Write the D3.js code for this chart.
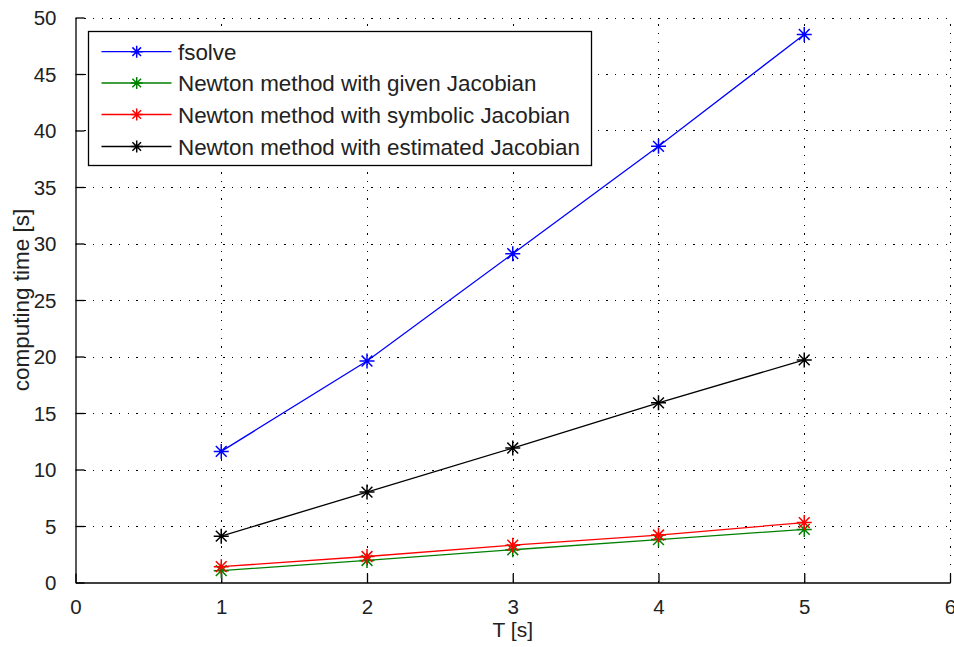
<!DOCTYPE html>
<html>
<head>
<meta charset="utf-8">
<script src="https://cdn.jsdelivr.net/npm/d3@7"></script>
<style>
  html, body { margin: 0; padding: 0; background: #fff; }
  svg { display: block; font-family: "Liberation Sans", Arial, sans-serif; }
</style>
</head>
<body>
<svg id="chart" width="954" height="647"></svg>
<script>
// Simulation horizon T [s]
const horizons = [1, 2, 3, 4, 5];

// Computing time [s] for each solver
const fsolveTimes    = [11.6, 19.6, 29.1, 38.6, 48.5];
const givenJacTimes  = [1.05, 1.95, 2.9, 3.8, 4.7];
const symbolicTimes  = [1.4, 2.3, 3.3, 4.2, 5.3];
const estimatedTimes = [4.1, 8.0, 11.9, 15.9, 19.7];

const seriesNames  = ["fsolve", "Newton method with given Jacobian", "Newton method with symbolic Jacobian", "Newton method with estimated Jacobian"];
const seriesColors = ["#0000ff", "#008000", "#ff0000", "#000000"];
const seriesValues = [fsolveTimes, givenJacTimes, symbolicTimes, estimatedTimes];

const xTicks = [0, 1, 2, 3, 4, 5, 6];
const yTicks = [0, 5, 10, 15, 20, 25, 30, 35, 40, 45, 50];

const svg = d3.select("#chart");
const plotLeft = 75.5, plotRight = 950, plotTop = 17.5, plotBottom = 582.5;

const x = d3.scaleLinear().domain([0, 6]).range([plotLeft, plotRight]);
const y = d3.scaleLinear().domain([0, 50]).range([plotBottom, plotTop]);

// dotted grid
const grid = svg.append("g").attr("stroke", "#000").attr("stroke-width", 1)
  .attr("stroke-dasharray", "1.3,7.4").attr("shape-rendering", "crispEdges");
grid.selectAll("line.gx").data(xTicks.slice(1)).join("line").attr("class", "gx")
  .attr("x1", d => Math.round(x(d)) + 0.5).attr("x2", d => Math.round(x(d)) + 0.5)
  .attr("y1", plotBottom).attr("y2", plotTop);
grid.selectAll("line.gy").data(yTicks.slice(1)).join("line").attr("class", "gy")
  .attr("y1", d => Math.round(y(d)) + 0.5).attr("y2", d => Math.round(y(d)) + 0.5)
  .attr("x1", plotLeft).attr("x2", plotRight);

// axes with inward ticks
const fontSize = 20.5;
const fmt = d3.format("d");
const xAxis = svg.append("g").attr("transform", `translate(0,${plotBottom})`)
  .call(d3.axisBottom(x).tickValues(xTicks).tickFormat(fmt).tickSize(-9).tickPadding(17).tickSizeOuter(0));
const yAxis = svg.append("g").attr("transform", `translate(${plotLeft},0)`)
  .call(d3.axisLeft(y).tickValues(yTicks).tickFormat(fmt).tickSize(-9).tickPadding(19).tickSizeOuter(0));
[xAxis, yAxis].forEach(a => {
  a.selectAll("path").attr("stroke", "#000").attr("stroke-width", 1.3);
  a.selectAll("line").attr("stroke", "#000").attr("stroke-width", 1.3);
  a.selectAll("text").attr("fill", "#222").style("font-size", fontSize + "px")
    .style("font-family", "'Liberation Sans', Arial, sans-serif");
});
yAxis.selectAll("text").attr("dy", "0.36em");

// axis titles
svg.append("text").attr("x", (plotLeft + plotRight) / 2).attr("y", 637)
  .attr("text-anchor", "middle").style("font-size", "21px").attr("fill", "#222")
  .text("T [s]");
svg.append("text").attr("transform", `translate(29,${(plotTop + plotBottom) / 2}) rotate(-90)`)
  .attr("text-anchor", "middle").style("font-size", "22.5px").attr("fill", "#222")
  .text("computing time [s]");

// asterisk marker path
function asterisk(r) {
  const d = r * 0.72;
  return `M${-r},0L${r},0M0,${-r}L0,${r}M${-d},${-d}L${d},${d}M${-d},${d}L${d},${-d}`;
}

const line = d3.line().x((d, i) => x(horizons[i])).y(d => y(d));
seriesValues.forEach((vals, si) => {
  const g = svg.append("g");
  g.append("path").datum(vals).attr("d", line).attr("fill", "none")
    .attr("stroke", seriesColors[si]).attr("stroke-width", 1.3);
  g.selectAll("path.m").data(vals).join("path").attr("class", "m")
    .attr("transform", (d, i) => `translate(${x(horizons[i])},${y(d)})`)
    .attr("d", asterisk(7.5)).attr("fill", "none")
    .attr("stroke", seriesColors[si]).attr("stroke-width", 1.5);
});

// legend
const lg = svg.append("g");
lg.append("rect").attr("x", 88.5).attr("y", 31.5).attr("width", 503).attr("height", 134)
  .attr("fill", "#fff").attr("stroke", "#000").attr("stroke-width", 1.3);
const rowY = [51.7, 83, 114.5, 146.5];
seriesNames.forEach((name, i) => {
  const ry = rowY[i];
  lg.append("line").attr("x1", 101.5).attr("x2", 171.5).attr("y1", ry).attr("y2", ry)
    .attr("stroke", seriesColors[i]).attr("stroke-width", 1.3);
  lg.append("path").attr("transform", `translate(136.7,${ry})`).attr("d", asterisk(6))
    .attr("fill", "none").attr("stroke", seriesColors[i]).attr("stroke-width", 1.5);
  lg.append("text").attr("x", 178).attr("y", ry).attr("dy", "0.36em")
    .style("font-size", "22.4px").attr("fill", "#222").text(name);
});
</script>
</body>
</html>
